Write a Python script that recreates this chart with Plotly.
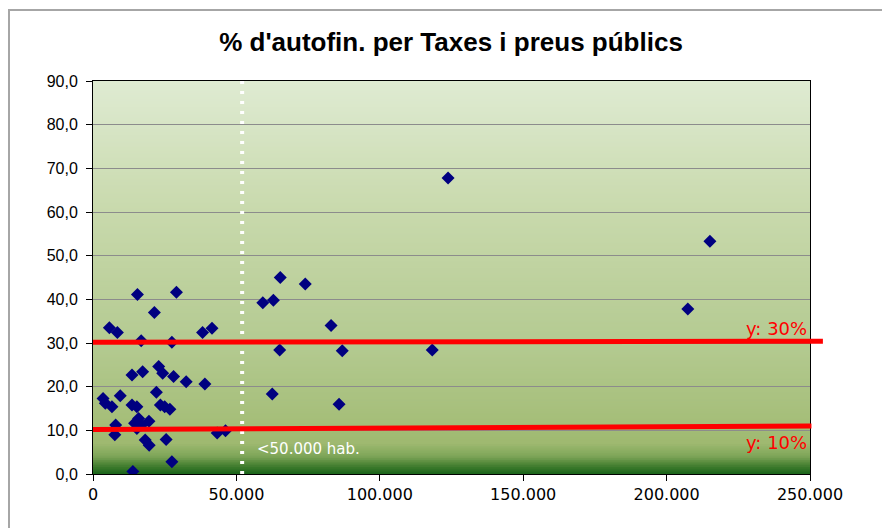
import plotly.graph_objects as go
import numpy as np

# population (inhabitants) and % self-financing from fees and public prices
town_pop = [15500, 29100, 21400, 5700, 8500, 16800, 27500, 38200, 41500,
            13600, 17300, 22900, 24300, 28100, 32500, 39000, 22100,
            3500, 9500, 4300, 6600, 13600, 15300, 23500, 25000, 26800,
            15900, 19500, 14500, 17000, 7900, 15300, 7600, 18200, 19600,
            25500, 43300, 46200, 27500, 13900,
            59200, 62900, 65300, 74000, 83000, 65100, 86900, 118300,
            62500, 85800, 123800, 215100, 207400]
selffin_pct = [41.1, 41.6, 37.0, 33.5, 32.4, 30.5, 30.2, 32.4, 33.4,
               22.7, 23.4, 24.6, 23.1, 22.3, 21.1, 20.6, 18.7,
               17.3, 17.9, 16.2, 15.4, 15.8, 15.4, 15.8, 15.4, 14.8,
               12.7, 12.1, 11.6, 11.2, 11.2, 10.4, 9.0, 7.8, 6.6,
               7.9, 9.4, 9.9, 2.8, 0.6,
               39.2, 39.8, 45.0, 43.5, 34.0, 28.4, 28.2, 28.4,
               18.3, 16.0, 67.8, 53.3, 37.8]

# hand drawn reference lines (y: 30% and y: 10%)
line30_x = [0, 254500]
line30_y = [30.15, 30.4]
line10_x = [0, 250500]
line10_y = [10.2, 11.0]

pop_limit = 52000
x_max = 250000
y_max = 90

# page has an 8px body margin, so the figure is 8px smaller
W, H = 882, 520
ML, MR, MT, MB = 85, 80, 73, 54
pw = W - ML - MR
ph = H - MT - MB

fig = go.Figure()

# vertical gradient background of the plot area
stops = [(0, (25, 100, 25)), (2, (70, 128, 50)), (4, (125, 165, 88)),
         (7, (158, 185, 112)), (12, (165, 190, 121)), (30, (180, 202, 145)),
         (60, (200, 217, 172)), (90, (223, 235, 210))]
sy = [s[0] for s in stops]
shapes = []
step = 0.4
for y0 in np.arange(0, y_max, step):
    yc = y0 + step / 2
    col = [int(round(np.interp(yc, sy, [s[1][k] for s in stops]))) for k in range(3)]
    shapes.append(dict(type="rect", xref="x", yref="y", x0=0, x1=x_max,
                       y0=y0, y1=min(y0 + 2 * step, y_max), layer="below",
                       line=dict(width=0), fillcolor="rgb(%d,%d,%d)" % tuple(col)))

# red reference lines (x in paper units so the 30% one can overhang)
for lx, ly in [(line30_x, line30_y), (line10_x, line10_y)]:
    shapes.append(dict(type="line", xref="paper", yref="y",
                       x0=lx[0] / x_max, x1=lx[1] / x_max, y0=ly[0], y1=ly[1],
                       line=dict(color="#ff0000", width=5), layer="above"))

# outer chart border
shapes.append(dict(type="rect", xref="paper", yref="paper",
                   x0=(-ML + 1) / pw, x1=(W - ML + 10) / pw,
                   y0=(-MB - 20) / ph, y1=(ph + MT - 2) / ph,
                   line=dict(color="#a6a6a6", width=2)))

fig.add_trace(go.Scatter(
    x=[pop_limit, pop_limit], y=[0, y_max], mode="lines",
    line=dict(color="white", width=4, dash="3px,7px"),
    hoverinfo="skip", showlegend=False))

fig.add_trace(go.Scatter(
    x=town_pop, y=selffin_pct, mode="markers",
    marker=dict(symbol="diamond", size=10, color="#000080",
                line=dict(width=0)),
    showlegend=False))

annotations = [
    dict(x=56500, y=5.7, xref="x", yref="y", text="<50.000 hab.",
         showarrow=False, xanchor="left", yanchor="middle",
         font=dict(family="DejaVu Sans", size=15, color="white")),
    dict(x=249500, y=33.4, xref="x", yref="y", text="y: 30%",
         showarrow=False, xanchor="right", yanchor="middle",
         font=dict(family="DejaVu Sans", size=18, color="#ff0000")),
    dict(x=249500, y=7.3, xref="x", yref="y", text="y: 10%",
         showarrow=False, xanchor="right", yanchor="middle",
         font=dict(family="DejaVu Sans", size=18, color="#ff0000")),
]

fig.update_layout(
    width=W, height=H,
    margin=dict(l=ML, r=MR, t=MT, b=MB),
    paper_bgcolor="white", plot_bgcolor="white",
    separators=",.",
    title=dict(text="<b>% d'autofin. per Taxes i preus públics</b>",
               x=443 / W, xanchor="center", y=1 - 34 / H, yanchor="middle",
               font=dict(family="Liberation Sans", size=26, color="black")),
    shapes=shapes,
    annotations=annotations,
    xaxis=dict(range=[0, x_max], tickvals=[0, 50000, 100000, 150000, 200000, 250000],
               tickformat=",d", showgrid=False, zeroline=False,
               showline=True, linecolor="black", linewidth=1, mirror=True,
               ticks="outside", ticklen=6, tickcolor="black",
               tickfont=dict(family="DejaVu Sans", size=16, color="black")),
    yaxis=dict(range=[0, y_max], dtick=10, tickformat=".1f",
               showgrid=True, gridcolor="#8c8c8c", gridwidth=1, zeroline=False,
               showline=True, linecolor="black", linewidth=1, mirror=True,
               ticks="outside", ticklen=6, tickcolor="black",
               ticklabelstandoff=5,
               tickfont=dict(family="Liberation Sans Narrow, Liberation Sans",
                             size=16, color="black")),
)

fig.write_html("out.html")
